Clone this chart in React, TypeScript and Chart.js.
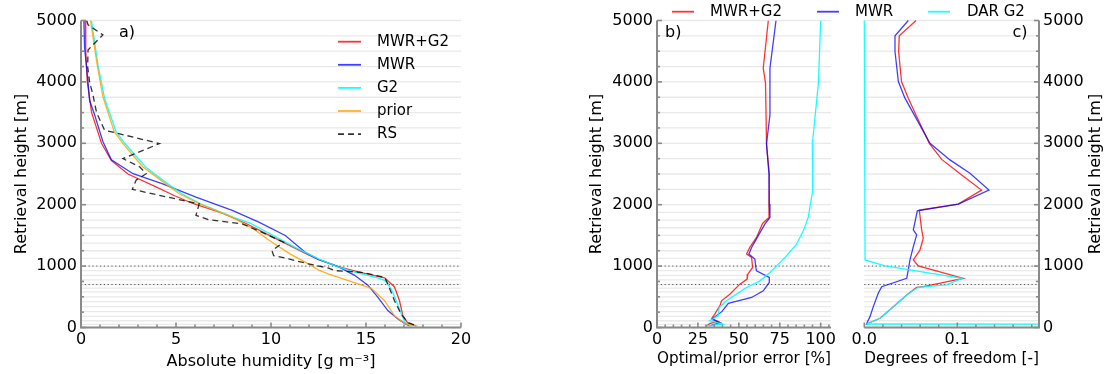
import React, { useEffect, useRef } from "react";
import { Chart, registerables } from "chart.js";

Chart.register(...registerables);

const W = 1110;
const H = 374;
const FONT = "'DejaVu Sans', 'Liberation Sans', sans-serif";

// ---------------- data ----------------
const Y_TICKS = [0, 1000, 2000, 3000, 4000, 5000];
const A_X_TICKS = [0, 5, 10, 15, 20];
const B_X_TICKS = [0, 25, 50, 75, 100];
const C_X_TICKS = [0, 0.1];
const RETRIEVAL_LEVELS = [5000, 4750, 4500, 4250, 4000, 3750, 3500, 3250, 3000, 2750, 2500, 2250, 2000, 1875, 1750, 1625, 1500, 1375, 1250, 1125, 1000, 925, 850, 775, 700, 640, 580, 500, 420, 340, 260, 180, 110, 50, 0];
const REF_HEIGHTS = [1000, 700];

// panel a) absolute humidity [g m-3] vs height [m]
const A_MWRG2_H = [5000, 4500, 4000, 3500, 3000, 2720, 2500, 2290, 2150, 2024, 1861, 1698, 1480, 1182, 1111, 991, 905, 810, 660, 440, 195, 70, 25];
const A_MWRG2 = [0.22, 0.25, 0.33, 0.56, 1.08, 1.6, 2.47, 3.95, 4.9, 5.85, 7.44, 8.66, 10.05, 11.97, 12.49, 13.54, 14.58, 15.98, 16.5, 16.76, 16.94, 17.2, 17.63];
const A_MWR_H = [5000, 4550, 4000, 3700, 3460, 3030, 2730, 2505, 2340, 2124, 1906, 1716, 1498, 1225, 1111, 991, 850, 690, 490, 275, 140, 55, 25];
const A_MWR = [0.15, 0.19, 0.37, 0.45, 0.72, 1.15, 1.6, 2.74, 4.3, 6.05, 7.96, 9.36, 10.75, 11.8, 12.49, 13.54, 14.4, 15.1, 15.63, 16.15, 16.68, 17.1, 17.29];
const A_G2_H = [5000, 4280, 3730, 3190, 3000, 2614, 2400, 2179, 2015, 1797, 1700, 1500, 1300, 1111, 991, 900, 800, 763, 627, 436, 163, 65, 22];
const A_G2 = [0.55, 0.89, 1.24, 1.85, 2.3, 3.4, 4.3, 5.3, 6.3, 8.0, 8.9, 10.1, 11.3, 12.55, 13.5, 14.4, 15.7, 16.0, 16.33, 16.59, 16.94, 17.1, 17.4];
const A_PRIOR_H = [5000, 4280, 3760, 3190, 3000, 2614, 2400, 2179, 2015, 1797, 1600, 1389, 1200, 1036, 937, 872, 746, 639, 436, 191, 65, 22];
const A_PRIOR = [0.5, 0.85, 1.15, 1.75, 2.2, 3.26, 4.2, 5.17, 6.22, 7.96, 9.1, 10.05, 11.0, 11.97, 12.49, 13.0, 14.23, 15.28, 15.98, 16.5, 17.03, 17.72];
const A_RS_H = [5000, 4930, 4766, 4520, 4250, 4003, 3786, 3500, 3214, 2996, 2750, 2614, 2505, 2400, 2250, 2070, 2015, 1825, 1754, 1689, 1526, 1389, 1253, 1171, 1117, 1036, 970, 926, 899, 817, 709, 436, 218, 82, 20];
const A_RS = [0.3, 0.37, 1.15, 0.37, 0.35, 0.45, 0.63, 0.82, 1.24, 4.13, 2.21, 3.1, 3.43, 2.9, 2.7, 5.35, 6.22, 6.05, 6.74, 8.48, 9.7, 10.66, 10.05, 10.14, 10.93, 11.97, 13.0, 13.37, 14.76, 15.98, 16.15, 16.5, 16.85, 17.2, 17.7];

// panel b) optimal/prior error [%]
const B_MWRG2_H = [5000, 4224, 3980, 2988, 2500, 2010, 1793, 1695, 1467, 1304, 1195, 1141, 978, 869, 788, 706, 543, 435, 367, 217, 150, 95, 68, 24];
const B_MWRG2 = [68, 64.9, 66.3, 66.9, 68.6, 68.4, 68.4, 64.5, 60.8, 56.7, 54.7, 57.8, 58.4, 55.5, 55.1, 50.6, 44.5, 39.4, 38.6, 35.3, 33.5, 37.5, 32.4, 30.4];
const B_MWR_H = [5000, 4224, 3463, 2988, 2500, 2010, 1793, 1684, 1521, 1304, 1195, 1114, 978, 924, 815, 733, 597, 489, 394, 258, 133, 78, 27];
const B_MWR = [72.7, 69.0, 69.0, 66.9, 68.4, 68.6, 69.0, 65.9, 62.4, 57.8, 56.1, 59.8, 60.4, 60.8, 68.6, 68.6, 64.9, 57.8, 43.6, 39.6, 33.5, 38.6, 32.2];
const B_G2_H = [5000, 3980, 2988, 2226, 1793, 1575, 1358, 1141, 1032, 896, 760, 652, 543, 435, 326, 190, 109, 54, 27];
const B_G2 = [100, 98.6, 94.9, 95.1, 92.4, 89.4, 85.3, 78.2, 74.1, 69.0, 62.9, 54.7, 48.6, 42.4, 38.0, 37.3, 32.2, 40.4, 29.2];

// panel c) degrees of freedom [-]
const C_MWRG2_H = [5000, 4750, 4495, 4006, 3735, 3436, 2999, 2738, 2482, 2238, 2010, 1912, 1589, 1454, 1263, 1100, 1002, 801, 665, 655, 530, 339, 150, 57];
const C_MWRG2 = [0.0556, 0.0376, 0.0369, 0.040, 0.0473, 0.0563, 0.0699, 0.0832, 0.1047, 0.126, 0.101, 0.0591, 0.0617, 0.0634, 0.0599, 0.0527, 0.058, 0.1065, 0.0634, 0.0563, 0.0456, 0.0312, 0.0169, 0.0026];
const C_MWR_H = [5000, 4750, 4495, 4006, 3735, 2999, 2730, 2513, 2238, 2010, 1901, 1589, 1507, 1317, 1100, 937, 801, 665, 557, 340, 177, 68, 41];
const C_MWR = [0.0473, 0.033, 0.033, 0.0366, 0.0437, 0.0706, 0.0921, 0.1136, 0.134, 0.101, 0.057, 0.0527, 0.0563, 0.0527, 0.0491, 0.0473, 0.0456, 0.0187, 0.015, 0.0097, 0.0061, 0.0026, 0.0025];
const C_G2_H = [5000, 1100, 1002, 801, 693, 655, 530, 339, 150, 57, 48];
const C_G2 = [0, 0.0008, 0.0223, 0.105, 0.0885, 0.058, 0.0456, 0.0312, 0.0169, 0.0026, 0.6];

// ---------------- styles ----------------
const RED = "rgba(255,0,0,0.8)";
const BLUE = "rgba(0,0,255,0.75)";
const CYAN = "rgba(0,255,255,0.9)";
const ORANGE = "rgba(255,165,0,0.85)";
const BLACK = "rgba(0,0,0,0.8)";
const SPINE = "#8a8a8a";

function xy(xs: number[], hs: number[]) {
  return xs.map((x, i) => ({ x, y: hs[i] }));
}

function ds(label: string, xs: number[], hs: number[], color: string, order: number, dash: number[] = []) {
  return {
    label,
    data: xy(xs, hs),
    borderColor: color,
    backgroundColor: color,
    borderWidth: 1.3,
    borderDash: dash,
    pointRadius: 0,
    showLine: true,
    fill: false,
    tension: 0,
    order,
  };
}

function line(ctx: CanvasRenderingContext2D, x0: number, y0: number, x1: number, y1: number) {
  ctx.beginPath();
  ctx.moveTo(x0, y0);
  ctx.lineTo(x1, y1);
  ctx.stroke();
}

const decorPlugin = {
  id: "decor",
  beforeDatasetsDraw(chart: any, _a: any, o: any) {
    const { ctx, chartArea: ca } = chart;
    const y = chart.scales.y;
    ctx.save();
    ctx.strokeStyle = "#e9e9e9";
    ctx.lineWidth = 1.3;
    for (const h of RETRIEVAL_LEVELS) {
      const py = y.getPixelForValue(h);
      line(ctx, ca.left, py, ca.right, py);
    }
    ctx.strokeStyle = "#555";
    ctx.lineWidth = 1;
    ctx.setLineDash([1.2, 2.6]);
    for (const h of REF_HEIGHTS) {
      const py = y.getPixelForValue(h);
      line(ctx, ca.left, py, ca.right, py);
    }
    ctx.restore();
  },
  afterDatasetsDraw(chart: any, _a: any, o: any) {
    const { ctx, chartArea: ca } = chart;
    const x = chart.scales.x;
    const y = chart.scales.y;
    ctx.save();
    ctx.strokeStyle = SPINE;
    ctx.lineWidth = 1.6;
    const n = Math.round((o.xMax - o.xMin) / o.xMinor);
    for (let i = 0; i <= n; i++) {
      const v = o.xMin + i * o.xMinor;
      if (v > o.xMax + 1e-9) break;
      const r = v / o.xMajor;
      const major = Math.abs(r - Math.round(r)) < 1e-6;
      const px = x.getPixelForValue(v);
      line(ctx, px, ca.bottom, px, ca.bottom - (major ? 5 : 3));
    }
    for (let v = 0; v <= 5000; v += 250) {
      const major = v % 1000 === 0;
      const py = y.getPixelForValue(v);
      const len = major ? 5 : 3;
      if (o.ySide === "left") line(ctx, ca.left, py, ca.left + len, py);
      else line(ctx, ca.right, py, ca.right - len, py);
    }
    ctx.lineWidth = 2;
    line(ctx, ca.left - (o.ySide === "left" ? 1 : 0), ca.bottom, ca.right + (o.ySide === "right" ? 1 : 0), ca.bottom);
    if (o.ySide === "left") line(ctx, ca.left, ca.top, ca.left, ca.bottom);
    else line(ctx, ca.right, ca.top, ca.right, ca.bottom);
    ctx.restore();
  },
  afterDraw(chart: any, _a: any, o: any) {
    const { ctx, chartArea: ca } = chart;
    ctx.save();
    ctx.fillStyle = "#000";
    ctx.font = `16px ${FONT}`;
    ctx.textAlign = "left";
    ctx.textBaseline = "alphabetic";
    ctx.fillText(o.panel.text, o.panel.x, o.panel.y);
    if (o.legend) {
      const dsets = chart.data.datasets;
      ctx.font = `15px ${FONT}`;
      ctx.textBaseline = "middle";
      o.legend.forEach((e: any) => {
        const d = dsets[e.idx];
        ctx.save();
        ctx.strokeStyle = d.borderColor;
        ctx.lineWidth = 1.8;
        ctx.setLineDash(d.borderDash && d.borderDash.length ? d.borderDash : []);
        line(ctx, e.x0, e.y, e.x1, e.y);
        ctx.restore();
        ctx.fillStyle = "#000";
        ctx.fillText(d.label, e.tx, e.y);
      });
    }
    if (o.rightTitle) {
      ctx.save();
      ctx.font = `16px ${FONT}`;
      ctx.textAlign = "center";
      ctx.textBaseline = "middle";
      ctx.translate(o.rightTitle.x, (ca.top + ca.bottom) / 2);
      ctx.rotate(-Math.PI / 2);
      ctx.fillText(o.rightTitle.text, 0, 0);
      ctx.restore();
    }
    ctx.restore();
  },
};

type Panel = {
  datasets: any[];
  left: number;
  right: number;
  top: number;
  bottom: number;
  ySide: "left" | "right";
  yWidth: number;
  xMin: number;
  xMax: number;
  xTicks: number[];
  xMinor: number;
  xMajor: number;
  xFmt: (v: number) => string;
  xTitle: string;
  xTitlePad: number;
  yTitle?: string;
  rightTitle?: { text: string; x: number };
  panel: { text: string; x: number; y: number };
  legend?: any[];
  clip?: any;
};

function makeConfig(p: Panel): any {
  const padRight = p.ySide === "left" ? W - p.right : W - p.right - p.yWidth;
  const padLeft = p.ySide === "left" ? p.left - p.yWidth : p.left;
  const tickFont = { family: FONT, size: 16 };
  return {
    type: "scatter",
    data: { datasets: p.datasets.map((d) => (p.clip ? { ...d, clip: p.clip } : d)) },
    options: {
      animation: false,
      responsive: false,
      devicePixelRatio: 1,
      events: [],
      layout: { padding: { left: padLeft, right: padRight, top: p.top, bottom: 0 } },
      plugins: {
        legend: { display: false },
        tooltip: { enabled: false },
        decor: {
          xMin: p.xMin,
          xMax: p.xMax,
          xMinor: p.xMinor,
          xMajor: p.xMajor,
          ySide: p.ySide,
          panel: p.panel,
          legend: p.legend,
          rightTitle: p.rightTitle,
        },
      },
      scales: {
        x: {
          type: "linear",
          position: "bottom",
          min: p.xMin,
          max: p.xMax,
          grid: { display: false, drawTicks: false },
          border: { display: false },
          afterBuildTicks: (s: any) => {
            s.ticks = p.xTicks.map((v) => ({ value: v }));
          },
          afterFit: (s: any) => {
            s.height = H - p.bottom;
          },
          ticks: {
            font: tickFont,
            color: "#000",
            padding: 3,
            autoSkip: false,
            maxRotation: 0,
            callback: (v: any) => p.xFmt(Number(v)),
          },
          title: {
            display: true,
            text: p.xTitle,
            font: tickFont,
            color: "#000",
            padding: { top: 0, bottom: p.xTitlePad },
          },
        },
        y: {
          type: "linear",
          position: p.ySide,
          min: 0,
          max: 5000,
          grid: { display: false, drawTicks: false },
          border: { display: false },
          afterBuildTicks: (s: any) => {
            s.ticks = Y_TICKS.map((v) => ({ value: v }));
          },
          afterFit: (s: any) => {
            s.width = p.yWidth;
          },
          ticks: {
            font: tickFont,
            color: "#000",
            padding: 4,
            autoSkip: false,
            callback: (v: any) => String(v),
          },
          title: p.yTitle
            ? { display: true, text: p.yTitle, font: tickFont, color: "#000", padding: { top: 12, bottom: 0 } }
            : { display: false },
        },
      },
    },
    plugins: [decorPlugin],
  };
}

const TOP = 20.5;
const BOTTOM = 327.5;

function panelA(): Panel {
  return {
    datasets: [
      ds("MWR+G2", A_MWRG2, A_MWRG2_H, RED, 4),
      ds("MWR", A_MWR, A_MWR_H, BLUE, 3),
      ds("G2", A_G2, A_G2_H, CYAN, 2),
      ds("prior", A_PRIOR, A_PRIOR_H, ORANGE, 1),
      ds("RS", A_RS, A_RS_H, BLACK, 0, [6, 4]),
    ],
    left: 81,
    right: 461,
    top: TOP,
    bottom: BOTTOM,
    ySide: "left",
    yWidth: 81,
    xMin: 0,
    xMax: 20,
    xTicks: A_X_TICKS,
    xMinor: 1,
    xMajor: 5,
    xFmt: (v) => String(v),
    xTitle: "Absolute humidity [g m\u207B\u00B3]",
    xTitlePad: 3,
    yTitle: "Retrieval height [m]",
    panel: { text: "a)", x: 119, y: 36.5 },
    legend: [0, 1, 2, 3, 4].map((i) => ({ idx: i, x0: 338, x1: 361, tx: 377, y: 41.7 + i * 23.1 })),
  };
}

function panelB(): Panel {
  return {
    datasets: [
      ds("MWR+G2", B_MWRG2, B_MWRG2_H, RED, 2),
      ds("MWR", B_MWR, B_MWR_H, BLUE, 1),
      ds("DAR G2", B_G2, B_G2_H, CYAN, 0),
    ],
    left: 657,
    right: 831,
    top: TOP,
    bottom: BOTTOM,
    ySide: "left",
    yWidth: 82,
    xMin: 0,
    xMax: 106.3,
    xTicks: B_X_TICKS,
    xMinor: 5,
    xMajor: 25,
    xFmt: (v) => String(v),
    xTitle: "Optimal/prior error [%]",
    xTitlePad: 6,
    yTitle: "Retrieval height [m]",
    panel: { text: "b)", x: 665, y: 36.5 },
    legend: [
      { idx: 0, x0: 672, x1: 694, tx: 710, y: 11.7 },
      { idx: 1, x0: 817, x1: 839, tx: 855, y: 11.7 },
      { idx: 2, x0: 928, x1: 950, tx: 967, y: 11.7 },
    ],
  };
}

function panelC(): Panel {
  return {
    datasets: [
      ds("MWR+G2", C_MWRG2, C_MWRG2_H, RED, 2),
      ds("MWR", C_MWR, C_MWR_H, BLUE, 1),
      ds("DAR G2", C_G2, C_G2_H, CYAN, 0),
    ],
    left: 864.3,
    right: 1039,
    top: TOP,
    bottom: BOTTOM,
    ySide: "right",
    yWidth: 50,
    xMin: 0,
    xMax: 0.1878,
    xTicks: C_X_TICKS,
    xMinor: 0.02,
    xMajor: 0.1,
    xFmt: (v) => v.toFixed(1),
    xTitle: "Degrees of freedom [-]",
    xTitlePad: 6,
    rightTitle: { text: "Retrieval height [m]", x: 1096 },
    panel: { text: "c)", x: 1012.5, y: 36.5 },
    clip: { left: 2, top: 2, right: 0, bottom: 2 },
  };
}

export default function App() {
  const r0 = useRef<HTMLCanvasElement>(null);
  const r1 = useRef<HTMLCanvasElement>(null);
  const r2 = useRef<HTMLCanvasElement>(null);
  useEffect(() => {
    const charts = [
      new Chart(r0.current as HTMLCanvasElement, makeConfig(panelA())),
      new Chart(r1.current as HTMLCanvasElement, makeConfig(panelB())),
      new Chart(r2.current as HTMLCanvasElement, makeConfig(panelC())),
    ];
    return () => charts.forEach((c) => c.destroy());
  }, []);
  const cs: React.CSSProperties = { position: "absolute", left: 0, top: 0, width: W, height: H };
  return (
    <div style={{ position: "fixed", left: 0, top: 0, width: W, height: H, background: "#fff" }}>
      <canvas ref={r0} width={W} height={H} style={cs} />
      <canvas ref={r1} width={W} height={H} style={cs} />
      <canvas ref={r2} width={W} height={H} style={cs} />
    </div>
  );
}
